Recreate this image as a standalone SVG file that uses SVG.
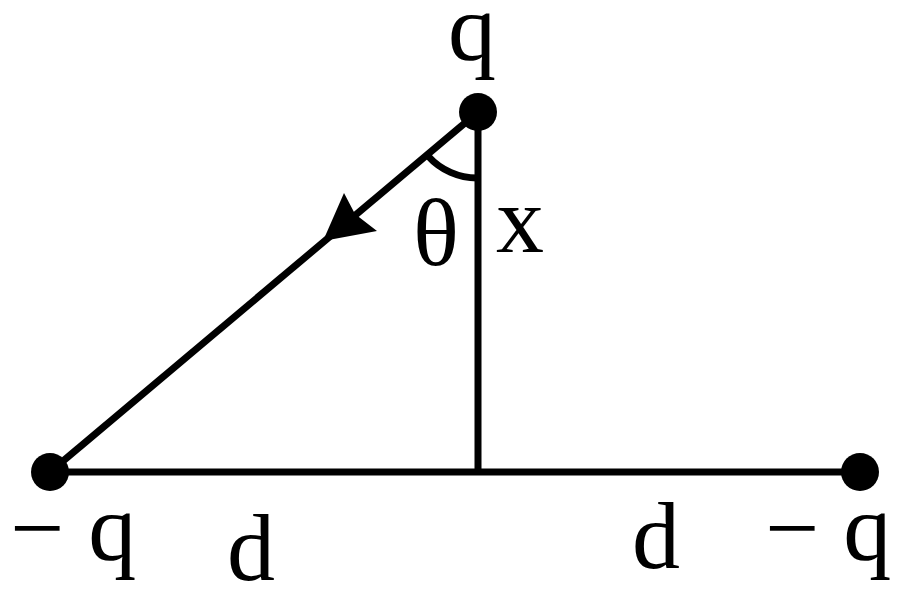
<svg xmlns="http://www.w3.org/2000/svg" width="900" height="607" viewBox="0 0 900 607">
<style>
.ln{stroke:#000;stroke-width:7;fill:none}
text{font-family:'Liberation Serif','Times New Roman',Times,serif;font-size:96px;fill:#000}
</style>
<rect width="900" height="607" fill="#fff"/>
<g id="connectors">
<line class="ln" x1="478" y1="112" x2="478" y2="472"/>
<line class="ln" x1="50" y1="472" x2="860" y2="472"/>
<line class="ln" x1="478" y1="112" x2="50" y2="472"/>
<path class="ln" d="M 428 156 A 66 66 0 0 0 478 178"/>
<polygon points="323,241 344,193 355,214 377,231" fill="#000"/>
</g>
<g id="node-top">
<circle cx="478" cy="112" r="19" fill="#000"/>
<text x="448" y="60">q</text>
</g>
<g id="node-left">
<circle cx="50" cy="472" r="19" fill="#000"/>
<text x="10" y="560">− q</text>
</g>
<g id="node-right">
<circle cx="860" cy="472" r="19" fill="#000"/>
<text x="765" y="560">− q</text>
</g>
<g id="labels">
<text x="436" y="265" text-anchor="middle">θ</text>
<text x="496" y="252">x</text>
<text x="227" y="580">d</text>
<text x="632" y="568">d</text>
</g>
</svg>
